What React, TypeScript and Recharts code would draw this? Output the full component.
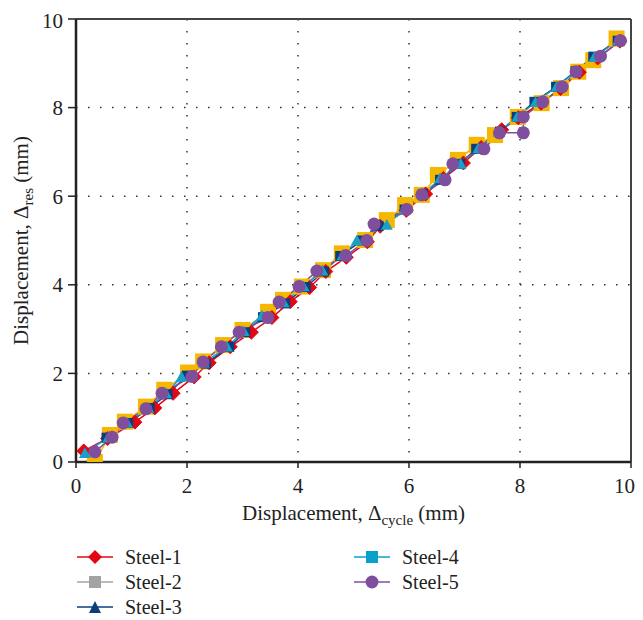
import React from "react";
import { LineChart, Line, XAxis, YAxis, CartesianGrid, ReferenceLine } from "recharts";

// [Δcycle, Δres] pairs
const steel1: number[][] = [[0.14,0.25],[0.57,0.53],[1.06,0.9],[1.42,1.22],[1.75,1.55],[2.13,1.92],[2.4,2.24],[2.78,2.6],[3.16,2.93],[3.53,3.26],[3.86,3.62],[4.21,3.94],[4.5,4.3],[4.87,4.62],[5.25,4.97],[5.48,5.32],[5.95,5.68],[6.3,6.05],[6.62,6.4],[6.98,6.75],[7.3,7.1],[7.67,7.5],[7.97,7.77],[8.38,8.1],[8.73,8.43],[9.07,8.8],[9.4,9.12],[9.8,9.5]];
const steel2: number[][] = [[0.34,0.0],[0.61,0.61],[0.88,0.91],[1.26,1.25],[1.59,1.63],[2.02,2.02],[2.29,2.27],[2.65,2.64],[3.0,2.98],[3.46,3.39],[3.73,3.66],[4.07,3.96],[4.45,4.33],[4.79,4.71],[5.21,5.01],[5.6,5.46],[5.93,5.8],[6.23,6.03],[6.52,6.48],[6.88,6.82],[7.22,7.16],[7.55,7.38],[7.96,7.79],[8.39,8.1],[8.74,8.44],[9.05,8.81],[9.32,9.07],[9.74,9.56]];
const steel3: number[][] = [[0.55,0.55],[0.94,0.88],[1.33,1.22],[1.65,1.53],[2.0,1.95],[2.34,2.22],[2.76,2.6],[3.05,2.93],[3.37,3.27],[3.77,3.58],[4.14,3.95],[4.47,4.3],[4.76,4.65],[5.15,5.0],[5.45,5.33],[5.92,5.7],[6.25,6.05],[6.56,6.37],[6.92,6.73],[7.21,7.07],[7.64,7.46],[7.94,7.79],[8.26,8.13],[8.65,8.47],[9.0,8.82],[9.32,9.15],[9.76,9.51]];
const steel4: number[][] = [[0.16,0.2],[0.58,0.55],[0.92,0.88],[1.3,1.22],[1.62,1.55],[1.9,1.92],[2.3,2.24],[2.72,2.6],[3.02,2.95],[3.35,3.3],[3.74,3.6],[4.1,3.96],[4.44,4.32],[4.8,4.66],[5.06,5.0],[5.6,5.35],[5.92,5.7],[6.26,6.05],[6.56,6.4],[6.93,6.73],[7.25,7.08],[7.62,7.45],[7.95,7.79],[8.28,8.12],[8.66,8.47],[9.0,8.8],[9.34,9.14],[9.77,9.52]];
const steel5: number[][] = [[0.34,0.23],[0.65,0.56],[0.85,0.88],[1.26,1.2],[1.55,1.55],[2.09,1.93],[2.29,2.26],[2.62,2.6],[2.94,2.93],[3.46,3.26],[3.66,3.61],[4.02,3.96],[4.34,4.31],[4.86,4.66],[5.24,5.0],[5.37,5.37],[5.96,5.7],[6.23,6.03],[6.65,6.37],[6.79,6.73],[7.35,7.07],[7.63,7.43],[8.06,7.43],[8.06,7.79],[8.41,8.13],[8.76,8.47],[9.01,8.81],[9.45,9.16],[9.81,9.51]];

const ticks = [0, 2, 4, 6, 8, 10];
const legendNames = ["Steel-1", "Steel-2", "Steel-3", "Steel-4", "Steel-5"];

const toRows = (a: number[][]) => a.map(([x, y]) => ({ x, y }));

const FONT = "'Liberation Serif', 'Times New Roman', serif";

const diamond = (c: string, s: number) => (p: any) => {
  const { cx, cy, index } = p;
  if (cx == null || cy == null) return <g key={index} />;
  return <polygon key={index} points={`${cx},${cy - s} ${cx + s},${cy} ${cx},${cy + s} ${cx - s},${cy}`} fill={c} stroke={c} />;
};
const square = (c: string, s: number) => (p: any) => {
  const { cx, cy, index } = p;
  if (cx == null || cy == null) return <g key={index} />;
  return <rect key={index} x={cx - s} y={cy - s} width={2 * s} height={2 * s} fill={c} />;
};
const triangle = (c: string, s: number) => (p: any) => {
  const { cx, cy, index } = p;
  if (cx == null || cy == null) return <g key={index} />;
  return <polygon key={index} points={`${cx},${cy - s} ${cx + s},${cy + s * 0.8} ${cx - s},${cy + s * 0.8}`} fill={c} />;
};
const circle = (c: string, r: number) => (p: any) => {
  const { cx, cy, index } = p;
  if (cx == null || cy == null) return <g key={index} />;
  return <circle key={index} cx={cx} cy={cy} r={r} fill={c} />;
};

const RED = "#E30613";
const GOLD = "#F6B700";
const NAVY = "#0B3F7C";
const CYAN = "#1AA0C8";
const PURPLE = "#7F4F9E";
const GRAY = "#A3A3A3";

const XLabel = (props: any) => {
  const vb = props.viewBox;
  const cx = vb.x + vb.width / 2;
  return (
    <text x={cx} y={vb.y + 58} textAnchor="middle" fontFamily={FONT} fontSize={21} fill="#222">
      <tspan>Displacement, Δ</tspan>
      <tspan fontSize={15} dy={5}>cycle</tspan>
      <tspan dy={-5}> (mm)</tspan>
    </text>
  );
};

const YLabel = (props: any) => {
  const vb = props.viewBox;
  const cy = vb.y + vb.height / 2;
  const x = 20;
  return (
    <text x={x} y={cy} transform={`rotate(-90, ${x}, ${cy})`} textAnchor="middle" fontFamily={FONT} fontSize={21} fill="#222">
      <tspan>Displacement, Δ</tspan>
      <tspan fontSize={15} dy={5}>res</tspan>
      <tspan dy={-5}> (mm)</tspan>
    </text>
  );
};

const LegendIcon = ({ kind, color }: { kind: string; color: string }) => (
  <svg width={36} height={16} style={{ display: "block" }}>
    <line x1={0} y1={8} x2={36} y2={8} stroke={color} strokeWidth={1.5} />
    {kind === "diamond" && <polygon points="18,1 25,8 18,15 11,8" fill={color} />}
    {kind === "square" && <rect x={12} y={2} width={12} height={12} fill={color} />}
    {kind === "triangle" && <polygon points="18,2 24,14 12,14" fill={color} />}
    {kind === "circle" && <circle cx={18} cy={8} r={6.5} fill={color} />}
  </svg>
);

const legendItems = [
  { name: legendNames[0], kind: "diamond", color: RED, left: 69, top: 538 },
  { name: legendNames[1], kind: "square", color: GRAY, left: 69, top: 563 },
  { name: legendNames[2], kind: "triangle", color: NAVY, left: 69, top: 588 },
  { name: legendNames[3], kind: "square", color: "#0AA0CC", left: 346, top: 538 },
  { name: legendNames[4], kind: "circle", color: PURPLE, left: 346, top: 563 },
];

export default function App() {
  return (
    <div style={{ position: "relative", width: 627, height: 610 }}>
      <LineChart width={627} height={610} margin={{ top: 11, right: 4, left: 0, bottom: 110 }}>
        <CartesianGrid stroke="#333" strokeDasharray="1.5 10.5" strokeWidth={1.5} />
        <XAxis
          type="number"
          dataKey="x"
          domain={[0, 10]}
          ticks={ticks}
          allowDataOverflow
          height={46}
          tickSize={6}
          tickMargin={10}
          axisLine={{ stroke: "#222", strokeWidth: 2.5 }}
          tickLine={{ stroke: "#222", strokeWidth: 1.5 }}
          tick={{ fontFamily: FONT, fontSize: 21, fill: "#222" }}
          label={<XLabel />}
        />
        <YAxis
          type="number"
          dataKey="y"
          domain={[0, 10]}
          ticks={ticks}
          allowDataOverflow
          width={68}
          tickSize={8}
          tickMargin={5}
          axisLine={{ stroke: "#222", strokeWidth: 2.5 }}
          tickLine={{ stroke: "#222", strokeWidth: 1.5 }}
          tick={{ fontFamily: FONT, fontSize: 21, fill: "#222" }}
          label={<YLabel />}
        />
        <ReferenceLine y={10} stroke="#444" strokeWidth={2} />
        <ReferenceLine x={10} stroke="#444" strokeWidth={2} />
        <Line data={toRows(steel2)} dataKey="y" name="Steel-2" stroke={GOLD} strokeWidth={1.5} dot={square(GOLD, 8)} isAnimationActive={false} />
        <Line data={toRows(steel1)} dataKey="y" name="Steel-1" stroke={RED} strokeWidth={1.5} dot={diamond(RED, 7)} isAnimationActive={false} />
        <Line data={toRows(steel3)} dataKey="y" name="Steel-3" stroke={NAVY} strokeWidth={1.5} dot={square(NAVY, 5)} isAnimationActive={false} />
        <Line data={toRows(steel4)} dataKey="y" name="Steel-4" stroke={CYAN} strokeWidth={1.5} dot={triangle(CYAN, 6)} isAnimationActive={false} />
        <Line data={toRows(steel5)} dataKey="y" name="Steel-5" stroke={PURPLE} strokeWidth={1.5} dot={circle(PURPLE, 6.5)} isAnimationActive={false} />
      </LineChart>
      {legendItems.map((it) => (
        <div key={it.name} style={{ position: "absolute", left: it.left, top: it.top, display: "flex", alignItems: "center", height: 22 }}>
          <LegendIcon kind={it.kind} color={it.color} />
          <span style={{ marginLeft: 12, fontFamily: FONT, fontSize: 20, color: "#222", lineHeight: "22px" }}>{it.name}</span>
        </div>
      ))}
    </div>
  );
}
